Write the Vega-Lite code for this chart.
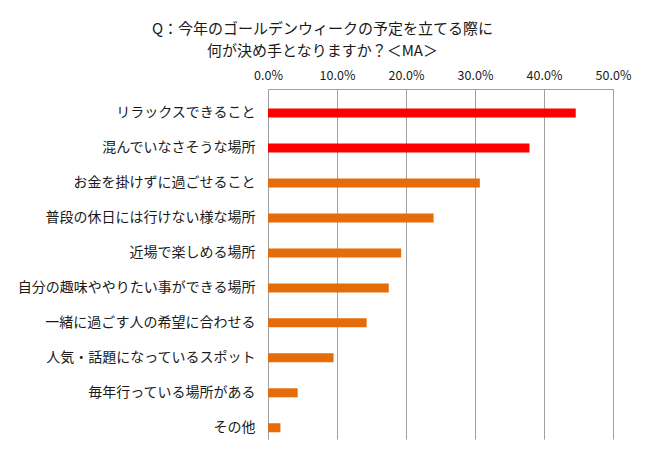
{
  "$schema": "https://vega.github.io/schema/vega-lite/v6.json",
  "autosize": "none",
  "width": 345,
  "height": 350,
  "padding": {"left": 268, "top": 89, "right": 37, "bottom": 19},
  "background": "white",
  "title": {
    "text": ["Q：今年のゴールデンウィークの予定を立てる際に", "何が決め手となりますか？＜MA＞"],
    "anchor": "middle",
    "frame": "group",
    "dx": -118,
    "offset": 10,
    "font": "Noto Sans CJK JP",
    "fontSize": 15,
    "fontWeight": "normal",
    "color": "#1a1a1a",
    "lineHeight": 22
  },
  "data": {
    "values": [
      {"item": "リラックスできること", "value": 0.446},
      {"item": "混んでいなさそうな場所", "value": 0.379},
      {"item": "お金を掛けずに過ごせること", "value": 0.307},
      {"item": "普段の休日には行けない様な場所", "value": 0.240},
      {"item": "近場で楽しめる場所", "value": 0.193},
      {"item": "自分の趣味ややりたい事ができる場所", "value": 0.175},
      {"item": "一緒に過ごす人の希望に合わせる", "value": 0.143},
      {"item": "人気・話題になっているスポット", "value": 0.095},
      {"item": "毎年行っている場所がある", "value": 0.043},
      {"item": "その他", "value": 0.018}
    ]
  },
  "config": {
    "view": {"stroke": null},
    "font": "Noto Sans CJK JP"
  },
  "mark": {"type": "bar"},
  "encoding": {
    "y": {
      "field": "item",
      "type": "nominal",
      "sort": null,
      "scale": {"paddingInner": 0.742, "paddingOuter": 0.376, "align": 0.744},
      "axis": {
        "title": null,
        "ticks": false,
        "domain": true,
        "domainColor": "#A0A0A0",
        "labelPadding": 13,
        "labelFont": "Noto Sans CJK JP",
        "labelFontSize": 14,
        "labelColor": "#1a1a1a",
        "labelLimit": 300
      }
    },
    "x": {
      "field": "value",
      "type": "quantitative",
      "scale": {"domain": [0, 0.5]},
      "axis": {
        "orient": "top",
        "title": null,
        "format": ".1%",
        "values": [0, 0.1, 0.2, 0.3, 0.4, 0.5],
        "ticks": false,
        "domain": true,
        "domainColor": "#A0A0A0",
        "grid": true,
        "gridColor": "#A0A0A0",
        "gridOpacity": 1,
        "labelPadding": 7,
        "labelFont": "Noto Sans CJK JP",
        "labelFontSize": 12.5,
        "labelColor": "#1a1a1a",
        "labelFlush": false
      }
    },
    "color": {
      "condition": {"test": "datum.value > 0.35", "value": "#FF0000"},
      "value": "#E46C0A"
    }
  }
}
